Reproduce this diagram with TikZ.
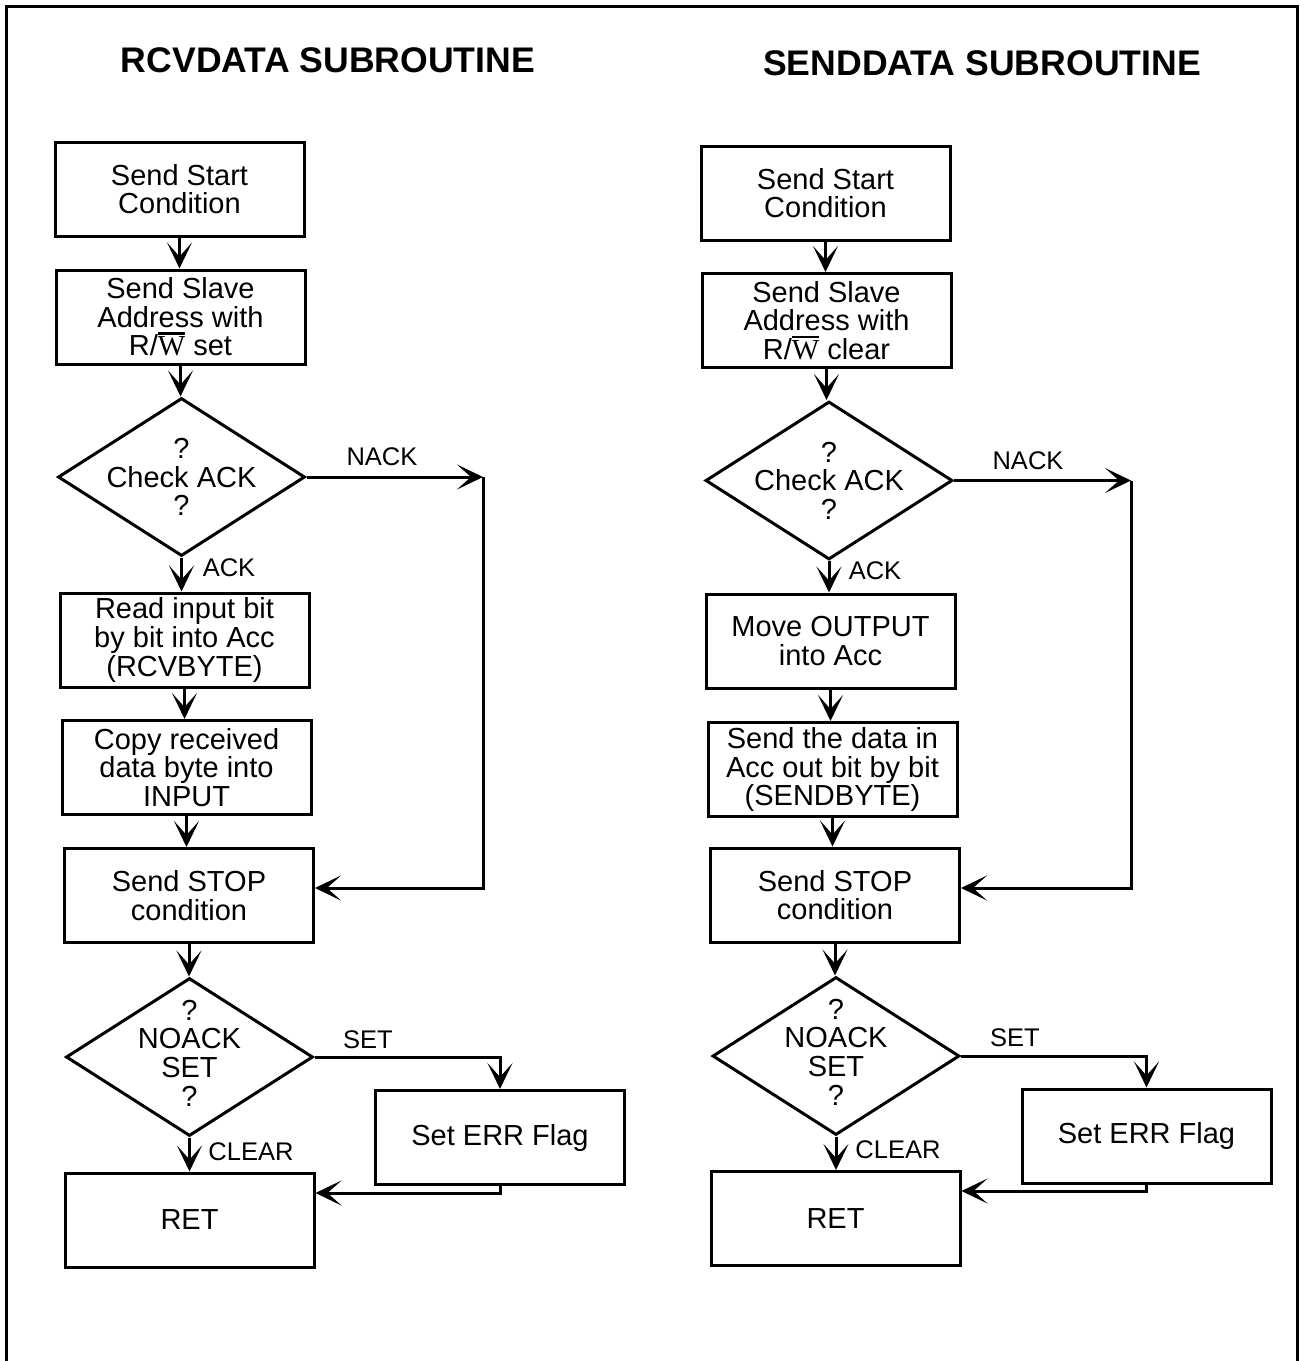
\documentclass[tikz,border=0pt]{standalone}
\usepackage{fontspec}
\setmainfont{Liberation Sans}
\newfontfamily\wserif{Liberation Serif}
\usetikzlibrary{arrows.meta,calc,shapes.geometric}
% R/W with a bar over the W, the W set in a serif face
\newcommand{\rwbar}{R/\setbox0\hbox{\wserif W}\rlap{\raise\dimexpr\ht0+1.2pt\relax\hbox{\rule{\wd0}{1.1pt}}}\box0}
\begin{document}
\begin{tikzpicture}[x=0.5pt,y=-0.5pt,
  line width=1.5pt,
  procbox/.style={draw,line width=1.5pt,minimum width=124.5pt,minimum height=47pt,
    inner sep=0pt,align=center,font=\fontsize{14.5}{14.3}\selectfont},
  decbox/.style={draw,diamond,line width=1.5pt,minimum width=123.5pt,minimum height=79pt,
    inner sep=0pt},
  dectext/.style={align=center,inner sep=0pt,font=\fontsize{14.5}{14.3}\selectfont},
  flowlabel/.style={inner sep=0pt,font=\fontsize{12.75}{14}\selectfont},
  heading/.style={inner sep=0pt,font=\fontsize{17.8}{20}\selectfont\bfseries},
  arr/.style={-{Stealth[length=13pt,width=12.5pt,inset=7pt]},line width=1.5pt},
]
\useasboundingbox (0,0) rectangle (1300,1361);

% outer frame
\draw[line width=1.5pt] (6,1361) -- (6,6) -- (1297,6) -- (1297,1361);

% ---------------- RCVDATA ----------------
\node[heading] (ltitle) at (328,60) {RCVDATA SUBROUTINE};
\node[procbox] (lb1) at (179.5,189) {Send Start\\Condition};
\node[procbox] (lb2) at (180.5,317) {Send Slave\\Address with\\\rwbar{} set};
\node[decbox] (ld1) at (181.5,477) {};
\node[dectext] (ld1t) at (ld1.center) {?\\Check ACK\\?};
\node[procbox] (lb3) at (184.5,640) {Read input bit\\by bit into Acc\\(RCVBYTE)};
\node[procbox] (lb4) at (186.5,767.5) {Copy received\\data byte into\\INPUT};
\node[procbox] (lstop) at (189,895.5) {Send STOP\\condition};
\node[decbox] (ld2) at (189.5,1057) {};
\node[dectext] (ld2t) at (189.5,1053) {?\\NOACK\\SET\\?};
\node[procbox] (lerr) at (500,1137.5) {Set ERR Flag};
\node[procbox] (lret) at (189.5,1220) {RET};

\coordinate (lnack) at (483,477);
\coordinate (lnackb) at (483,888);
\coordinate (lback) at (500,1193);

\draw[arr] (lb1.south) -- (lb1.south |- lb2.north);
\draw[arr] (lb2.south) -- (lb2.south |- ld1.north);
\draw[arr] (ld1.south) -- (ld1.south |- lb3.north);
\draw[arr] (lb3.south) -- (lb3.south |- lb4.north);
\draw[arr] (lb4.south) -- (lb4.south |- lstop.north);
\draw[arr] (lstop.south) -- (lstop.south |- ld2.north);
\draw[arr] (ld2.south) -- (ld2.south |- lret.north);
\draw[arr] (ld1.east) -- (lnack);
\draw[arr] (lnack) -- (lnackb) -- (lstop.east |- lnackb);
\draw[arr] (ld2.east) -| (lerr.north);
\draw[arr] (lerr.south) -- (lback) -- (lret.east |- lback);

\node[flowlabel] (lnackl) at (382,457) {NACK};
\node[flowlabel] (lackl) at (229,568) {ACK};
\node[flowlabel] (lsetl) at (368,1040) {SET};
\node[flowlabel] (lclrl) at (251,1152) {CLEAR};

% ---------------- SENDDATA ----------------
\node[heading] (rtitle) at (982,63) {SENDDATA SUBROUTINE};
\node[procbox] (rb1) at (825.5,193) {Send Start\\Condition};
\node[procbox] (rb2) at (826.5,320.5) {Send Slave\\Address with\\\rwbar{} clear};
\node[decbox] (rd1) at (829,480.5) {};
\node[dectext] (rd1t) at (rd1.center) {?\\Check ACK\\?};
\node[procbox] (rb3) at (830.5,641) {Move OUTPUT\\into Acc};
\node[procbox] (rb4) at (832.5,769.5) {Send the data in\\Acc out bit by bit\\(SENDBYTE)};
\node[procbox] (rstop) at (835,895) {Send STOP\\condition};
\node[decbox] (rd2) at (836,1056) {};
\node[dectext] (rd2t) at (836,1052) {?\\NOACK\\SET\\?};
\node[procbox] (rerr) at (1146.5,1136) {Set ERR Flag};
\node[procbox] (rret) at (835.5,1218.5) {RET};

\coordinate (rnack) at (1131,480.5);
\coordinate (rnackb) at (1131,888);
\coordinate (rback) at (1146.5,1191);

\draw[arr] (rb1.south) -- (rb1.south |- rb2.north);
\draw[arr] (rb2.south) -- (rb2.south |- rd1.north);
\draw[arr] (rd1.south) -- (rd1.south |- rb3.north);
\draw[arr] (rb3.south) -- (rb3.south |- rb4.north);
\draw[arr] (rb4.south) -- (rb4.south |- rstop.north);
\draw[arr] (rstop.south) -- (rstop.south |- rd2.north);
\draw[arr] (rd2.south) -- (rd2.south |- rret.north);
\draw[arr] (rd1.east) -- (rnack);
\draw[arr] (rnack) -- (rnackb) -- (rstop.east |- rnackb);
\draw[arr] (rd2.east) -| (rerr.north);
\draw[arr] (rerr.south) -- (rback) -- (rret.east |- rback);

\node[flowlabel] (rnackl) at (1028,461) {NACK};
\node[flowlabel] (rackl) at (875,571) {ACK};
\node[flowlabel] (rsetl) at (1015,1038) {SET};
\node[flowlabel] (rclrl) at (898,1150) {CLEAR};
\end{tikzpicture}
\end{document}
